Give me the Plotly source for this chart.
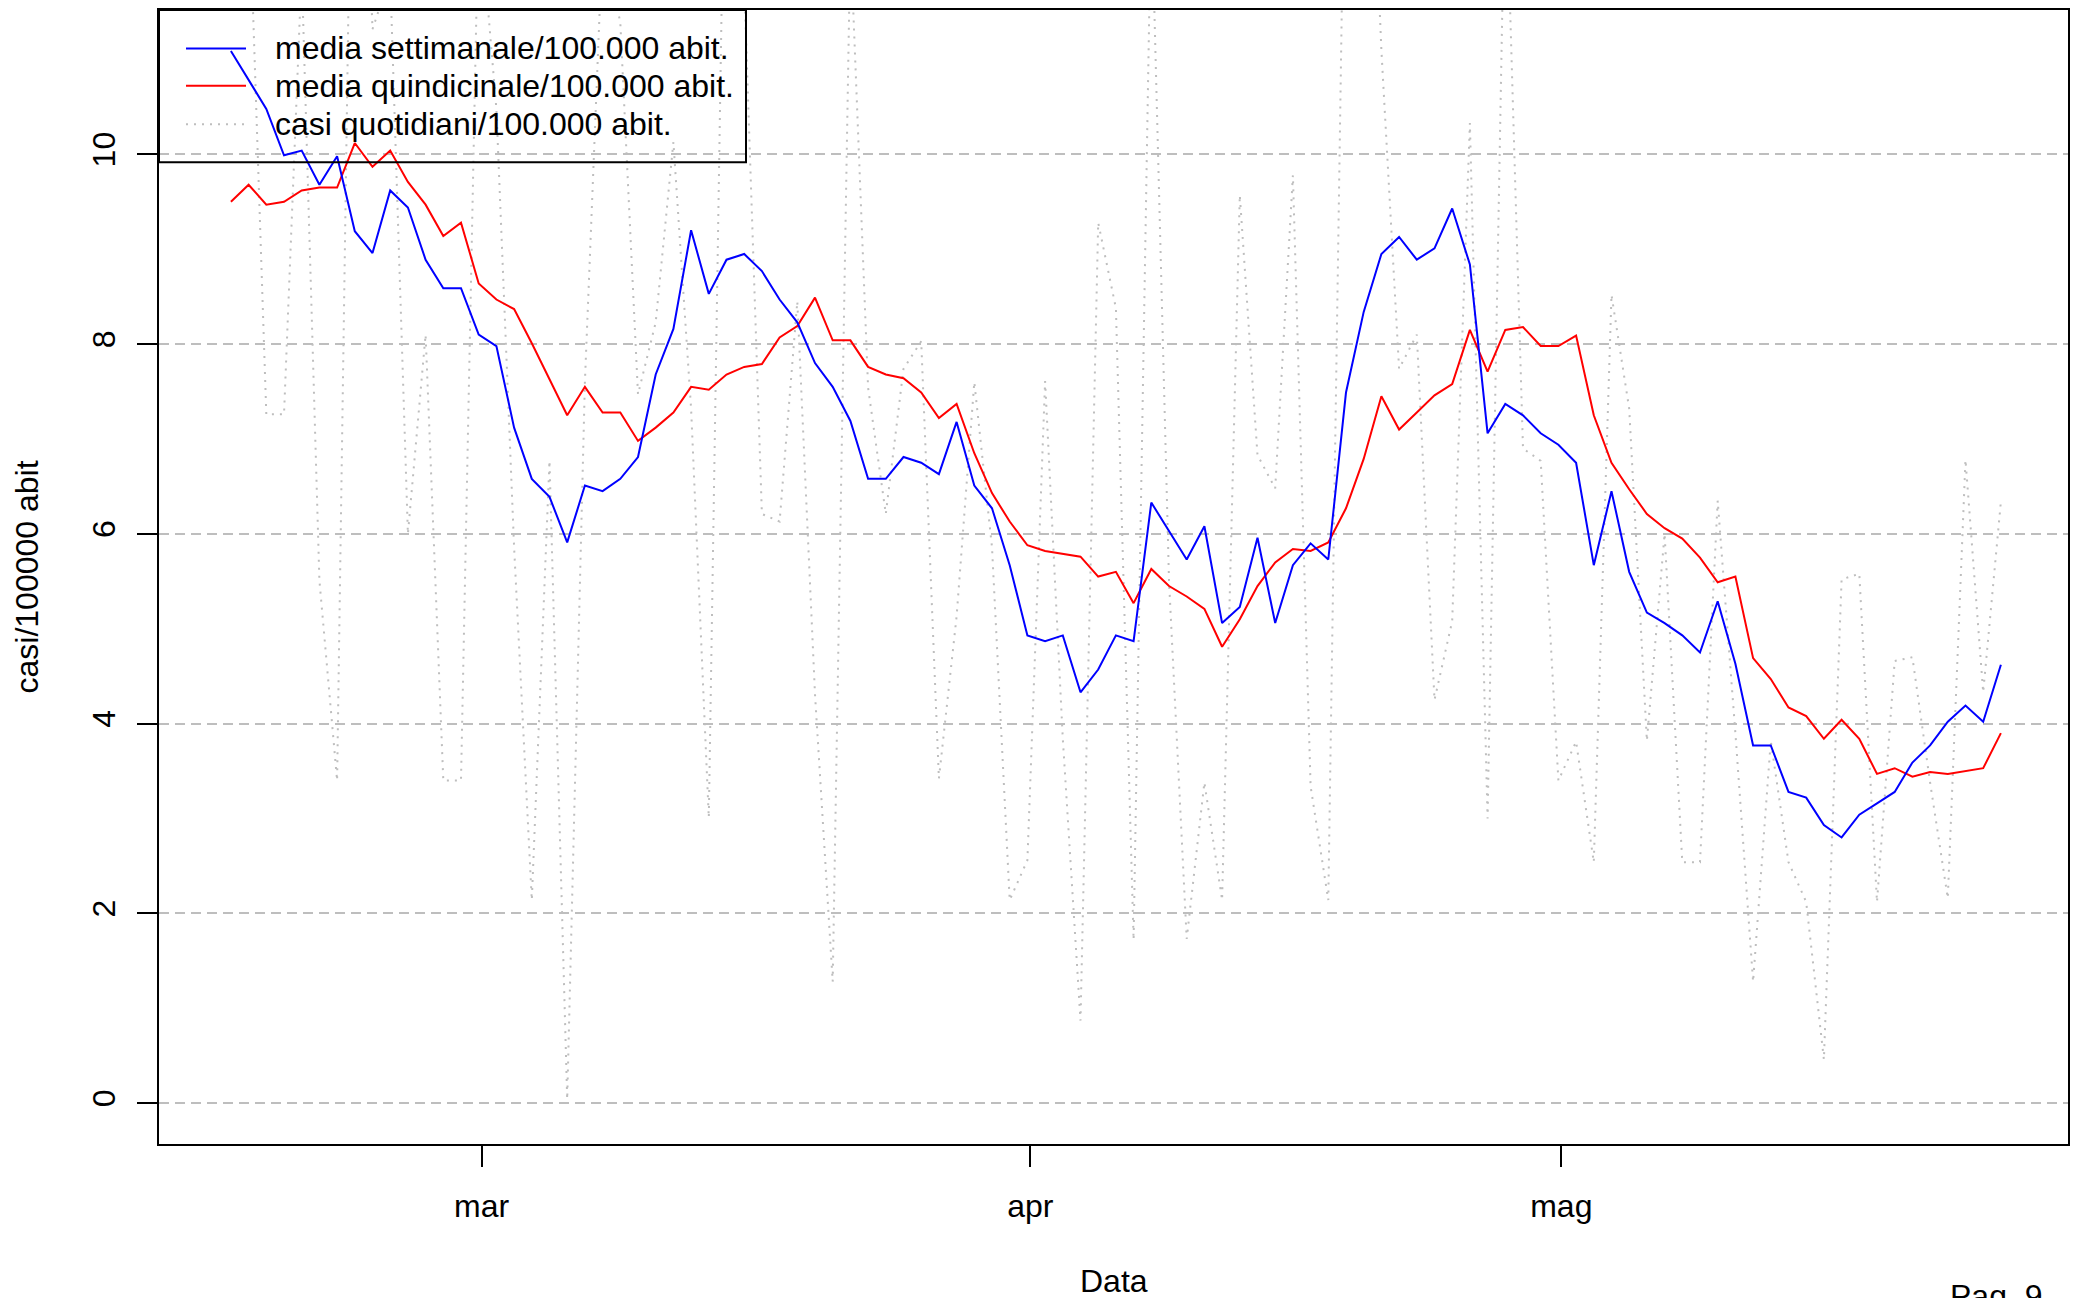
import plotly.graph_objects as go
import pandas as pd

# ---------------- data ----------------
start_date = "2021-02-14 20:00"

weekly = [11.09, 10.79, 10.48, 9.99, 10.04, 9.68, 9.98, 9.19, 8.96, 9.62,
          9.44, 8.89, 8.59, 8.59, 8.10, 7.98, 7.12, 6.58, 6.39, 5.91,
          6.51, 6.45, 6.58, 6.81, 7.68, 8.16, 9.20, 8.53, 8.89, 8.95,
          8.77, 8.47, 8.23, 7.80, 7.55, 7.19, 6.58, 6.58, 6.81, 6.75,
          6.63, 7.18, 6.51, 6.27, 5.67, 4.93, 4.87, 4.93, 4.33, 4.57,
          4.93, 4.87, 6.33, 6.03, 5.73, 6.08, 5.06, 5.23, 5.96, 5.06,
          5.67, 5.90, 5.73, 7.49, 8.34, 8.95, 9.13, 8.89, 9.01, 9.43,
          8.84, 7.06, 7.37, 7.25, 7.06, 6.94, 6.75, 5.67, 6.45, 5.60,
          5.17, 5.06, 4.93, 4.75, 5.29, 4.63, 3.77, 3.77, 3.28, 3.22,
          2.93, 2.80, 3.04, 3.16, 3.28, 3.59, 3.77, 4.02, 4.19, 4.02,
          4.62]

biweekly = [9.50, 9.68, 9.47, 9.50, 9.62, 9.65, 9.65, 10.12, 9.87, 10.04,
            9.71, 9.47, 9.14, 9.28, 8.64, 8.47, 8.37, 8.01, 7.63, 7.25,
            7.55, 7.28, 7.28, 6.98, 7.12, 7.28, 7.55, 7.52, 7.68, 7.76,
            7.79, 8.07, 8.19, 8.49, 8.04, 8.04, 7.76, 7.68, 7.64, 7.49,
            7.22, 7.37, 6.85, 6.43, 6.13, 5.88, 5.82, 5.79, 5.76, 5.55,
            5.60, 5.27, 5.63, 5.45, 5.34, 5.21, 4.81, 5.10, 5.45, 5.70,
            5.84, 5.82, 5.91, 6.27, 6.79, 7.45, 7.10, 7.28, 7.46, 7.58,
            8.15, 7.71, 8.15, 8.18, 7.98, 7.98, 8.09, 7.25, 6.75, 6.47,
            6.21, 6.06, 5.95, 5.75, 5.49, 5.55, 4.69, 4.47, 4.17, 4.08,
            3.84, 4.04, 3.84, 3.47, 3.53, 3.44, 3.49, 3.47, 3.50, 3.53,
            3.90]

daily = [21.70, 12.93, 7.26, 7.26, 11.95, 5.51, 3.40, 16.14, 11.32, 11.88,
         6.00, 8.10, 3.40, 3.40, 12.71, 10.48, 5.86, 2.14, 6.77, 0.04,
         7.60, 12.29, 11.39, 7.47, 8.23, 10.13, 7.32, 3.01, 14.81, 11.81,
         6.21, 6.13, 8.45, 4.31, 1.28, 12.29, 7.54, 6.21, 7.74, 8.03,
         3.42, 5.13, 7.60, 5.86, 2.14, 2.56, 7.61, 3.84, 0.87, 9.28,
         8.38, 1.72, 12.78, 5.51, 1.73, 3.38, 2.14, 9.57, 6.83, 6.48,
         9.78, 3.34, 2.14, 14.46, 15.52, 11.10, 7.74, 8.10, 4.25, 5.08,
         10.33, 3.00, 13.27, 6.90, 6.77, 3.40, 3.81, 2.54, 8.52, 7.32,
         3.82, 6.00, 2.54, 2.54, 6.35, 3.90, 1.28, 3.82, 2.54, 2.12,
         0.46, 5.52, 5.58, 2.12, 4.66, 4.70, 3.38, 2.16, 6.78, 4.33,
         6.34]

month_ticks = ["2021-03-01", "2021-04-01", "2021-05-01"]
month_labels = ["mar", "apr", "mag"]
y_ticks = [0, 2, 4, 6, 8, 10]

legend_labels = ["media settimanale/100.000 abit.",
                 "media quindicinale/100.000 abit.",
                 "casi quotidiani/100.000 abit."]

dates = pd.date_range(start_date, periods=len(weekly), freq="D")

# ---------------- layout geometry (page pixels) ----------------
W, H = 2081, 1298
PL, PR, PT, PB = 159, 2068, 8, 1144
PW, PH = PR - PL, PB - PT


def px_x(x):
    return (x - PL) / PW


def px_y(y):
    return (PB - y) / PH


FONT = "Liberation Sans, Arial, Helvetica, sans-serif"
FS = 32
BLUE, RED, GRAY = "#0000FF", "#FF0000", "#BEBEBE"
DOT = "2px,6px"

fig = go.Figure()
fig.add_trace(go.Scatter(x=dates, y=daily, mode="lines",
                         line=dict(color=GRAY, width=2, dash=DOT),
                         showlegend=False, hoverinfo="skip"))
fig.add_trace(go.Scatter(x=dates, y=biweekly, mode="lines",
                         line=dict(color=RED, width=2),
                         showlegend=False, hoverinfo="skip"))
fig.add_trace(go.Scatter(x=dates, y=weekly, mode="lines",
                         line=dict(color=BLUE, width=2),
                         showlegend=False, hoverinfo="skip"))

fig.update_layout(
    width=W, height=H, autosize=False,
    margin=dict(l=PL, r=W - PR, t=PT, b=H - PB, pad=0),
    paper_bgcolor="white", plot_bgcolor="white",
    font=dict(family=FONT, size=FS, color="black"),
    showlegend=False,
)

fig.update_xaxes(
    range=["2021-02-10 18:30", "2021-05-29 15:00"],
    tickvals=month_ticks, ticktext=month_labels,
    ticks="outside", ticklen=21, tickwidth=2, tickcolor="black",
    showline=True, linewidth=2, linecolor="black", mirror=True,
    showgrid=False, zeroline=False,
    tickfont=dict(family=FONT, size=FS, color="black"),
    ticklabelstandoff=12,
)
fig.update_yaxes(
    range=[-0.431, 11.522],
    tickvals=y_ticks, ticktext=[str(v) for v in y_ticks],
    ticks="outside", ticklen=20, tickwidth=2, tickcolor="black",
    showline=True, linewidth=2, linecolor="black", mirror=True,
    showgrid=True, gridcolor=GRAY, gridwidth=2, griddash="10px,6px",
    zeroline=False, tickangle=-90,
    tickfont=dict(family=FONT, size=FS, color="black"),
    ticklabelstandoff=9,
)

# ---------------- manual legend (R style) ----------------
shapes = [dict(type="rect", xref="paper", yref="paper",
               x0=px_x(PL), x1=px_x(746), y0=px_y(160.6), y1=px_y(PT),
               line=dict(color="black", width=2), fillcolor="rgba(0,0,0,0)")]
row_y = [46.5, 84.0, 122.5]
styles = [dict(color=BLUE, width=2), dict(color=RED, width=2),
          dict(color=GRAY, width=2, dash=DOT)]
annotations = []
for yy, st, lab in zip(row_y, styles, legend_labels):
    shapes.append(dict(type="line", xref="paper", yref="paper",
                       x0=px_x(186), x1=px_x(246), y0=px_y(yy), y1=px_y(yy),
                       line=st))
    annotations.append(dict(xref="paper", yref="paper", x=px_x(273),
                            y=px_y(yy), xanchor="left", yanchor="middle",
                            text=lab, showarrow=False,
                            font=dict(family=FONT, size=FS, color="black")))

# axis titles and page note
annotations.append(dict(xref="paper", yref="paper", x=px_x(1113.5), y=px_y(1281),
                        xanchor="center", yanchor="middle", text="Data",
                        showarrow=False, font=dict(family=FONT, size=FS)))
annotations.append(dict(xref="paper", yref="paper", x=px_x(26.5), y=px_y(576),
                        xanchor="center", yanchor="middle", textangle=-90,
                        text="casi/100000 abit", showarrow=False,
                        font=dict(family=FONT, size=FS)))
annotations.append(dict(xref="paper", yref="paper", x=px_x(1996), y=px_y(1276),
                        xanchor="center", yanchor="top", text="Pag. 9",
                        showarrow=False, font=dict(family=FONT, size=FS)))

fig.update_layout(shapes=shapes, annotations=annotations)

fig.write_html("out.html", config={"displayModeBar": False},
               post_script="document.body.style.margin='0';"
                           "document.body.style.overflow='hidden';")
